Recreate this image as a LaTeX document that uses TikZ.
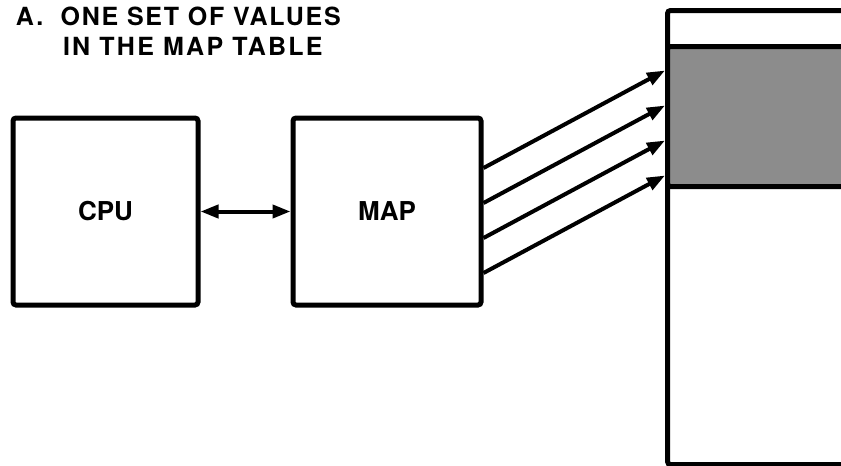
\documentclass[tikz,border=0pt]{standalone}
\usepackage{fontspec}
\setmainfont{TeX Gyre Heros}
\usetikzlibrary{arrows.meta}

\begin{document}
\begin{tikzpicture}[x=1pt,y=-1pt,
  unit/.style={draw=black,line width=5pt,rounded corners=3pt,inner sep=0pt,font=\bfseries\fontsize{26}{31.2}\selectfont},
  link/.style={draw=black,line width=4pt,-{Triangle[length=18pt,width=13pt]}},
  duplex/.style={draw=black,line width=4pt,{Triangle[length=18pt,width=13pt]}-{Triangle[length=18pt,width=13pt]}},
  heading/.style={inner sep=0pt,outer sep=0pt,anchor=base west,font=\bfseries\fontsize{25}{30}\selectfont}]
\path[use as bounding box] (0,0) rectangle (841,466);
\clip (0,0) rectangle (841,466);
\path[fill=white,draw=none] (0,0) rectangle (841,466);
\node[heading] (head1) at (16,25) {\addfontfeature{LetterSpace=7}A.~~ONE SET OF VALUES};
\node[heading] (head2) at (63,55) {\addfontfeature{LetterSpace=9}IN THE MAP TABLE};
\node[unit,minimum width=185pt,minimum height=187pt] (cpu) at (105.5,211.5) {CPU};
\node[unit,minimum width=188pt,minimum height=187pt] (map) at (387,211.5) {MAP};
\node[unit,anchor=north west,minimum width=260pt,minimum height=454pt] (mem) at (665,8) {};
\node[unit,anchor=north west,fill=black!45,minimum width=260pt,minimum height=140pt] (band) at (665,44) {};
\draw[duplex] (cpu) -- (map);
\foreach \k in {0,...,3}
  \draw[link] ([yshift={43.5-35*\k}]map.east) -- ([yshift={46-35*\k}]band.west);
\end{tikzpicture}
\end{document}
